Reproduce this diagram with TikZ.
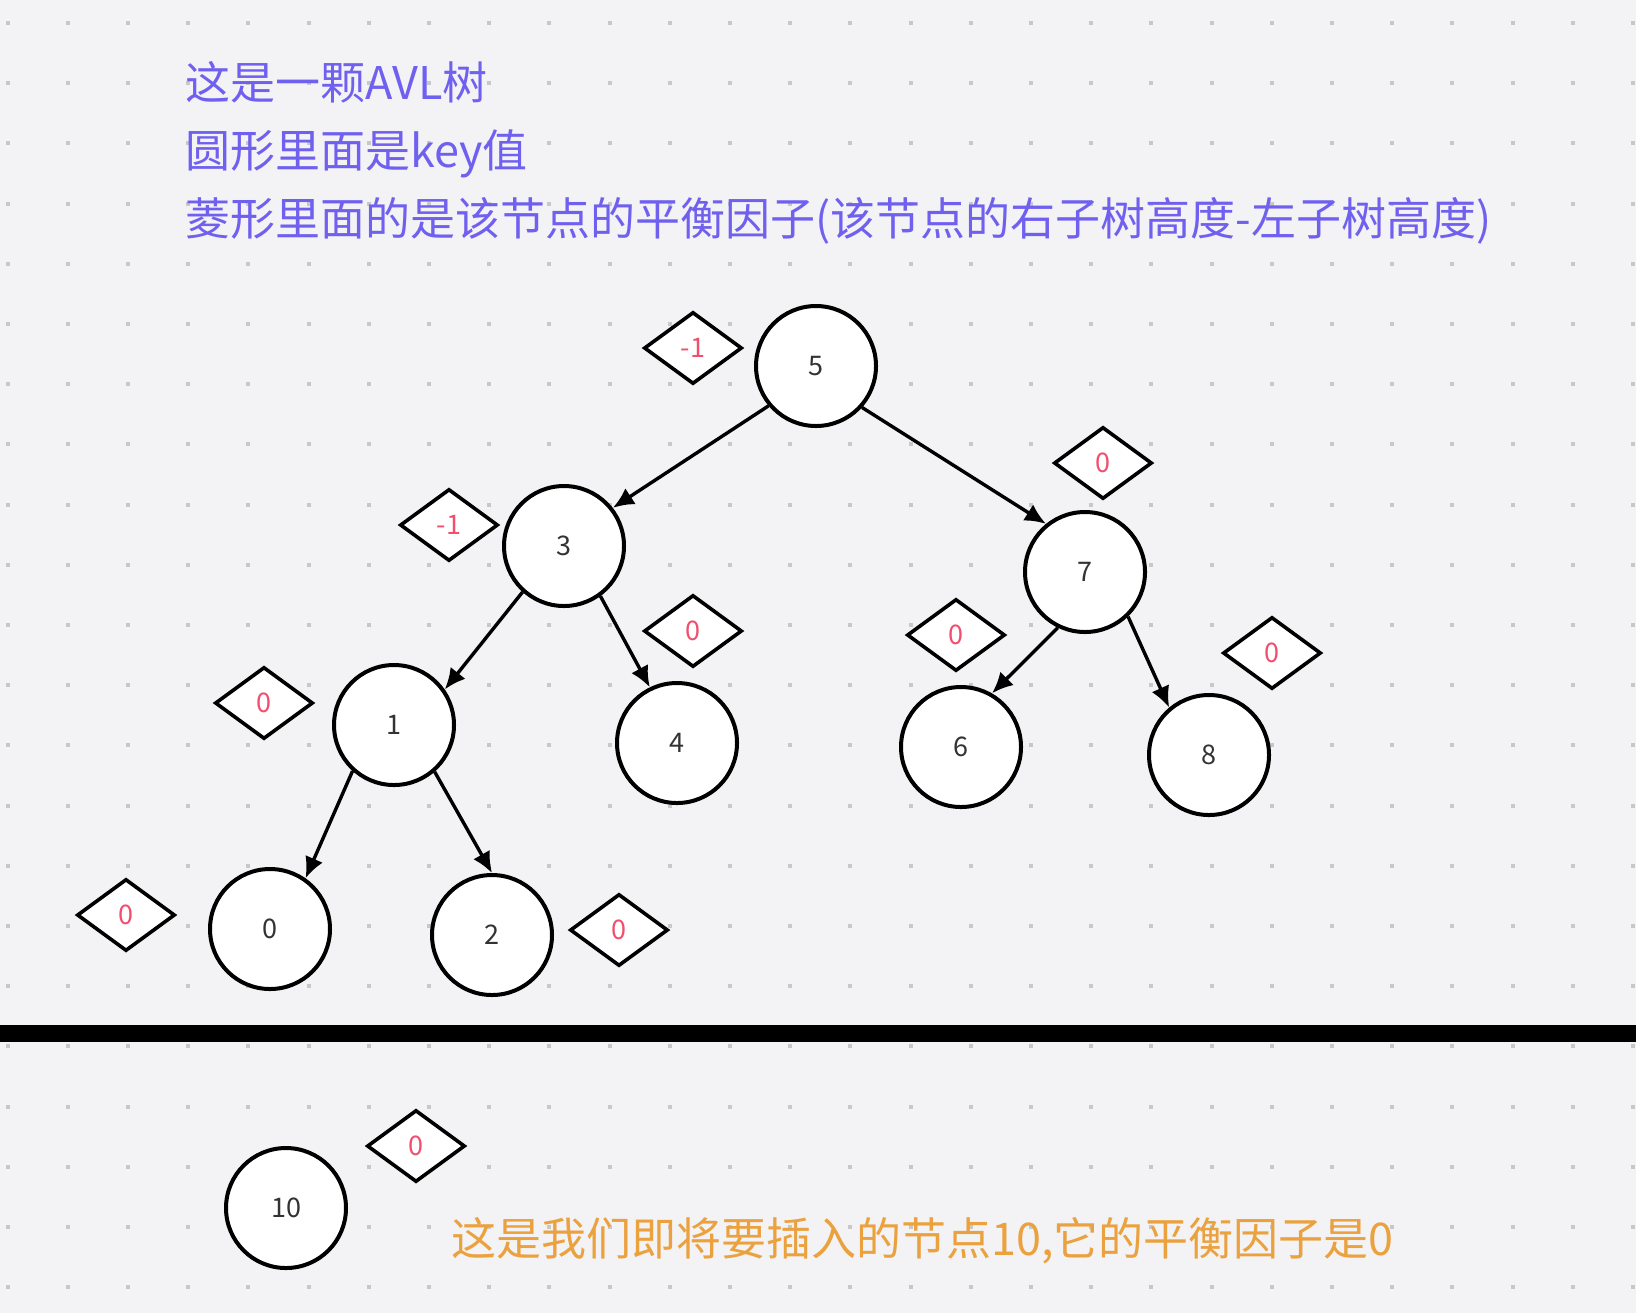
\documentclass[tikz,border=0pt]{standalone}
\usepackage{fontspec}
\newfontfamily\cjk{Noto Sans CJK SC}
\usepackage{xcolor}
\usetikzlibrary{arrows.meta,shapes.geometric}
\definecolor{bgc}{HTML}{F3F3F5}
\definecolor{dotc}{HTML}{C8C8C8}
\definecolor{notec}{HTML}{7060F0}
\definecolor{insc}{HTML}{EBA13E}
\definecolor{balc}{HTML}{F0506E}
\definecolor{keyc}{HTML}{333333}
\tikzstyle{key} = [circle,draw,line width=2pt,fill=white,minimum size=60pt,inner sep=0pt,text=keyc,font=\cjk\fontsize{13.5}{13.5}\selectfont]
\tikzstyle{bal} = [diamond,draw,line width=1.8pt,fill=white,minimum width=49pt,minimum height=36pt,inner sep=0pt,text=balc,font=\cjk\fontsize{13.5}{13.5}\selectfont]
\tikzstyle{note} = [anchor=base west,inner sep=0pt,font=\cjk\fontsize{22.5}{22.5}\selectfont]
\tikzstyle{edge} = [->,line width=1.7pt]

\begin{document}
\begin{tikzpicture}[x=0.5pt,y=-0.5pt,>={Latex[length=10.5pt,width=9.5pt]}]
    % background and dot grid
    \fill[bgc] (0,0) rectangle (1636,1313);
    \useasboundingbox (0,0) rectangle (1636,1313);
    \foreach \i in {0,...,27}
      \foreach \j in {0,...,21}
        \fill[dotc] (5.5+60.2*\i,21+60.2*\j) rectangle ++(4,4);

    % the notes
    \node [note, text=notec] (t1) at (185,99) {这是一颗AVL树};
    \node [note, text=notec] (t2) at (185,167) {圆形里面是key值};
    \node [note, text=notec] (t3) at (185,235) {菱形里面的是该节点的平衡因子(该节点的右子树高度-左子树高度)};

    % the keys
    \node [key] (n5) at (816,366) {5};
    \node [key] (n3) at (564,546) {3};
    \node [key] (n7) at (1085,572) {7};
    \node [key] (n1) at (394,725) {1};
    \node [key] (n4) at (677,743) {4};
    \node [key] (n6) at (961,747) {6};
    \node [key] (n8) at (1209,755) {8};
    \node [key] (n0) at (270,929) {0};
    \node [key] (n2) at (492,935) {2};

    % the balance factors
    \node [bal] (b5) at (693,348) {-1};
    \node [bal] (b7) at (1103,463) {0};
    \node [bal] (b3) at (449,525) {-1};
    \node [bal] (b4) at (693,631) {0};
    \node [bal] (b6) at (956,635) {0};
    \node [bal] (b8) at (1272,653) {0};
    \node [bal] (b1) at (264,703) {0};
    \node [bal] (b0) at (126,915) {0};
    \node [bal] (b2) at (619,930) {0};

    % edges of the tree
    \draw [edge] (n5.220) -- (n3.38);
    \draw [edge] (n5.318) -- (n7.129);
    \draw [edge] (n3.228) -- (n1.35);
    \draw [edge] (n3.306) -- (n4.116);
    \draw [edge] (n7.244) -- (n6.60);
    \draw [edge] (n7.314) -- (n8.130);
    \draw [edge] (n1.228) -- (n0.55);
    \draw [edge] (n1.311) -- (n2.90);

    % separator
    \coordinate (sepl) at (0,1033);
    \coordinate (sepr) at (1636,1033);
    \draw [line width=8.5pt] (sepl) -- (sepr);

    % the key to insert
    \node [key] (n10) at (286,1208) {10};
    \node [bal] (b10) at (416,1146) {0};
    \node [note, text=insc] (t4) at (451,1255) {这是我们即将要插入的节点10,它的平衡因子是0};
\end{tikzpicture}
\end{document}
